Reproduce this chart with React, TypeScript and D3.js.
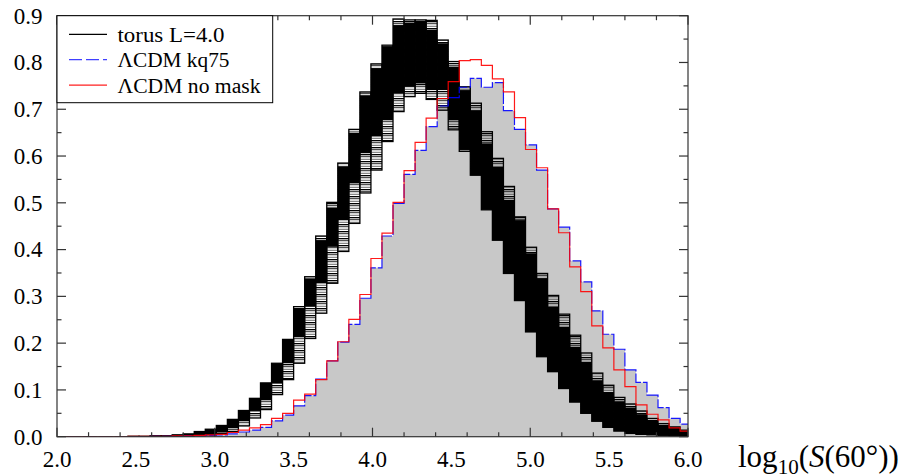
import React, { useEffect, useRef } from "react";
import * as d3 from "d3";

// histogram bins: left edges of log10(S) bins, width 0.07
const binLeft = [
  1.96, 2.03, 2.10, 2.17, 2.24, 2.31, 2.38, 2.45, 2.52, 2.59, 2.66, 2.73, 2.80, 2.87, 2.94,
  3.01, 3.08, 3.15, 3.22, 3.29, 3.36, 3.43, 3.50, 3.57, 3.64, 3.71, 3.78, 3.85, 3.92, 3.99,
  4.06, 4.13, 4.20, 4.27, 4.34, 4.41, 4.48, 4.55, 4.62, 4.69, 4.76, 4.83, 4.90, 4.97, 5.04,
  5.11, 5.18, 5.25, 5.32, 5.39, 5.46, 5.53, 5.60, 5.67, 5.74, 5.81, 5.88, 5.95,
];
const binWidth = 0.07;

// ΛCDM kq75 (grey filled, blue dashed edge)
const kq75 = [
  0, 0, 0, 0, 0, 0, 0, 0, 0,
  0.001, 0.001, 0.001, 0.002, 0.002, 0.003, 0.004,
  0.006, 0.010, 0.014, 0.020, 0.034, 0.046, 0.066,
  0.088, 0.123, 0.162, 0.202, 0.240, 0.296, 0.361,
  0.429, 0.499, 0.561, 0.612, 0.663, 0.707, 0.725,
  0.747, 0.766, 0.747, 0.757, 0.697, 0.657, 0.624,
  0.570, 0.487, 0.448, 0.376, 0.331, 0.269, 0.219,
  0.187, 0.143, 0.116, 0.089, 0.062, 0.039, 0.027,
];

// ΛCDM no mask (red)
const noMask = [
  0, 0, 0, 0, 0, 0, 0, 0.001, 0.001,
  0.001, 0.001, 0.002, 0.002, 0.003, 0.004, 0.005,
  0.009, 0.014, 0.019, 0.026, 0.039, 0.050, 0.078,
  0.091, 0.122, 0.162, 0.203, 0.251, 0.304, 0.381,
  0.435, 0.501, 0.569, 0.629, 0.681, 0.723, 0.759,
  0.804, 0.806, 0.794, 0.765, 0.737, 0.682, 0.614,
  0.575, 0.487, 0.436, 0.363, 0.310, 0.237, 0.190,
  0.143, 0.107, 0.068, 0.048, 0.036, 0.019, 0.012,
];

// torus L=4.0 ensemble: envelope of all realisations per bin
const torusHi = [
  0, 0, 0, 0, 0, 0, 0, 0.001, 0.001,
  0.002, 0.002, 0.004, 0.006, 0.011, 0.016, 0.024,
  0.037, 0.056, 0.082, 0.115, 0.157, 0.208, 0.278,
  0.342, 0.429, 0.501, 0.585, 0.657, 0.737, 0.797,
  0.837, 0.893, 0.891, 0.891, 0.890, 0.848, 0.802,
  0.748, 0.713, 0.652, 0.595, 0.535, 0.470, 0.405,
  0.349, 0.302, 0.262, 0.217, 0.179, 0.136, 0.110,
  0.084, 0.070, 0.055, 0.039, 0.028, 0.021, 0.014,
];
const torusLo = [
  0, 0, 0, 0, 0, 0, 0, 0, 0,
  0, 0, 0, 0, 0.002, 0.004, 0.007,
  0.011, 0.023, 0.040, 0.058, 0.090, 0.122, 0.157,
  0.210, 0.264, 0.328, 0.396, 0.456, 0.521, 0.570,
  0.631, 0.695, 0.727, 0.734, 0.721, 0.698, 0.656,
  0.610, 0.559, 0.485, 0.420, 0.349, 0.291, 0.224,
  0.171, 0.139, 0.103, 0.074, 0.050, 0.033, 0.020,
  0.012, 0.007, 0.005, 0.004, 0.003, 0.002, 0.001,
];
// where most realisations pile up (solid black core)
const torusCoreHi = [
  0, 0, 0, 0, 0, 0, 0, 0.001, 0.001,
  0.002, 0.002, 0.004, 0.006, 0.011, 0.016, 0.024,
  0.037, 0.056, 0.082, 0.115, 0.157, 0.208, 0.275,
  0.338, 0.420, 0.490, 0.578, 0.650, 0.730, 0.788,
  0.835, 0.880, 0.885, 0.889, 0.870, 0.841, 0.791,
  0.741, 0.698, 0.627, 0.577, 0.506, 0.463, 0.392,
  0.339, 0.278, 0.235, 0.192, 0.160, 0.120, 0.095,
  0.075, 0.062, 0.048, 0.034, 0.025, 0.019, 0.013,
];
const torusCoreLo = [
  0, 0, 0, 0, 0, 0, 0, 0, 0,
  0, 0, 0, 0, 0.002, 0.005, 0.010,
  0.020, 0.035, 0.055, 0.080, 0.114, 0.157, 0.214,
  0.278, 0.328, 0.406, 0.463, 0.542, 0.606, 0.642,
  0.677, 0.734, 0.748, 0.755, 0.741, 0.741, 0.677,
  0.613, 0.559, 0.485, 0.420, 0.349, 0.291, 0.224,
  0.171, 0.139, 0.103, 0.074, 0.050, 0.033, 0.020,
  0.012, 0.007, 0.005, 0.004, 0.003, 0.002, 0.001,
];

const xTickLabels = ["2.0", "2.5", "3.0", "3.5", "4.0", "4.5", "5.0", "5.5", "6.0"];
const yTickLabels = ["0.0", "0.1", "0.2", "0.3", "0.4", "0.5", "0.6", "0.7", "0.8", "0.9"];
const legendLabels = ["torus L=4.0", "\u039BCDM kq75", "\u039BCDM no mask"];

const width = 914;
const height = 476;
const font = "'Liberation Serif', 'Times New Roman', serif";

const App = () => {
  const svgRef = useRef(null);

  useEffect(() => {
    const svg = d3.select(svgRef.current);
    svg.selectAll("*").remove();

    const x = d3.scaleLinear().domain([2, 6]).range([57, 688]);
    const y = d3.scaleLinear().domain([0, 0.9]).range([436.7, 15.7]);

    const defs = svg.append("defs");
    defs.append("clipPath").attr("id", "plotClip")
      .append("rect").attr("x", x(2)).attr("y", y(0.9) - 2)
      .attr("width", x(6) - x(2)).attr("height", y(0) - y(0.9) + 2);
    // loose horizontal lines where only a few realisations lie
    const pat = defs.append("pattern").attr("id", "sparse")
      .attr("patternUnits", "userSpaceOnUse").attr("width", 8).attr("height", 7);
    pat.append("rect").attr("y", 0).attr("width", 8).attr("height", 1.3).attr("fill", "#000");
    pat.append("rect").attr("y", 2.2).attr("width", 8).attr("height", 1).attr("fill", "#222");
    pat.append("rect").attr("y", 4.8).attr("width", 8).attr("height", 0.9).attr("fill", "#555");

    const plot = svg.append("g").attr("clip-path", "url(#plotClip)");

    const stepPts = (vals) => [
      ...vals.map((v, i) => [binLeft[i], v]),
      [binLeft[vals.length - 1] + binWidth, vals[vals.length - 1]],
    ];
    const area = d3.area().x(d => x(d[0])).y0(y(0)).y1(d => y(d[1])).curve(d3.curveStepAfter);
    const line = d3.line().x(d => x(d[0])).y(d => y(d[1])).curve(d3.curveStepAfter);

    // grey filled kq75
    plot.append("path").attr("d", area(stepPts(kq75))).attr("fill", "#c8c8c8");

    // torus ensemble columns
    const cols = plot.append("g");
    binLeft.forEach((b, i) => {
      const x0 = x(b), x1 = x(b + binWidth);
      cols.append("rect")
        .attr("x", x0).attr("width", x1 - x0)
        .attr("y", y(torusHi[i])).attr("height", y(torusLo[i]) - y(torusHi[i]))
        .attr("fill", "url(#sparse)").attr("stroke", "#000").attr("stroke-width", 1.3);
      cols.append("rect")
        .attr("x", x0).attr("width", x1 - x0)
        .attr("y", y(torusCoreHi[i])).attr("height", Math.max(0, y(torusCoreLo[i]) - y(torusCoreHi[i])))
        .attr("fill", "#000");
    });

    // blue dashed kq75 edge and red no-mask
    plot.append("path").attr("d", line(stepPts(kq75)))
      .attr("fill", "none").attr("stroke", "#0000ff").attr("stroke-width", 1.2)
      .attr("stroke-dasharray", "14,2").attr("stroke-opacity", 0.9);
    plot.append("path").attr("d", line(stepPts(noMask)))
      .attr("fill", "none").attr("stroke", "#ff0000").attr("stroke-width", 1.2)
      .attr("stroke-opacity", 0.9);

    // frame and ticks (inward on all four sides)
    const axes = svg.append("g").attr("stroke", "#333").attr("stroke-width", 1.2);
    axes.append("rect").attr("x", x(2)).attr("y", y(0.9))
      .attr("width", x(6) - x(2)).attr("height", y(0) - y(0.9)).attr("fill", "none");
    x.ticks(16).forEach(t => {
      const len = Math.abs(t * 2 - Math.round(t * 2)) < 1e-6 ? 9 : 4.5;
      axes.append("line").attr("x1", x(t)).attr("x2", x(t)).attr("y1", y(0)).attr("y2", y(0) - len);
      axes.append("line").attr("x1", x(t)).attr("x2", x(t)).attr("y1", y(0.9)).attr("y2", y(0.9) + len);
    });
    y.ticks(18).forEach(t => {
      const len = Math.abs(t * 10 - Math.round(t * 10)) < 1e-6 ? 9 : 4.5;
      axes.append("line").attr("y1", y(t)).attr("y2", y(t)).attr("x1", x(2)).attr("x2", x(2) + len);
      axes.append("line").attr("y1", y(t)).attr("y2", y(t)).attr("x1", x(6)).attr("x2", x(6) - len);
    });

    // tick labels
    const labels = svg.append("g").attr("font-family", font).attr("font-size", 23).attr("fill", "#000");
    xTickLabels.forEach(l => {
      labels.append("text").attr("x", x(+l)).attr("y", 467).attr("text-anchor", "middle").text(l);
    });
    yTickLabels.forEach(l => {
      labels.append("text").attr("x", 42.5).attr("y", y(+l) + 7.8).attr("text-anchor", "end").text(l);
    });

    // axis title
    const title = svg.append("text").attr("x", 738).attr("y", 467)
      .attr("font-family", font).attr("font-size", 31).attr("fill", "#000");
    title.append("tspan").text("log");
    title.append("tspan").attr("font-size", 21).attr("dy", 7).text("10");
    title.append("tspan").attr("dy", -7).text("(");
    title.append("tspan").attr("font-style", "italic").text("S");
    title.append("tspan").text("(60°))");

    // legend
    const legend = svg.append("g");
    legend.append("rect").attr("x", x(2)).attr("y", y(0.9))
      .attr("width", 215.7).attr("height", 87).attr("fill", "#fff").attr("stroke", "#000").attr("stroke-width", 1);
    const styles = [
      { stroke: "#000", dash: null },
      { stroke: "#4040ff", dash: "13,4" },
      { stroke: "#ff2020", dash: null },
    ];
    const widths = [107, 112, 143];
    legendLabels.forEach((l, i) => {
      const ly = 34.3 + i * 25.4;
      legend.append("line").attr("x1", 69).attr("x2", 107).attr("y1", ly).attr("y2", ly)
        .attr("stroke", styles[i].stroke).attr("stroke-width", 1.3)
        .attr("stroke-dasharray", styles[i].dash);
      legend.append("text").attr("x", 117.5).attr("y", ly + 7.5)
        .attr("font-family", font).attr("font-size", 20)
        .attr("textLength", widths[i]).attr("lengthAdjust", "spacingAndGlyphs")
        .text(l);
    });
  }, []);

  return (
    <svg ref={svgRef} width={width} height={height}
      style={{ position: "absolute", left: 0, top: 0, background: "#fff" }} />
  );
};

export default App;
